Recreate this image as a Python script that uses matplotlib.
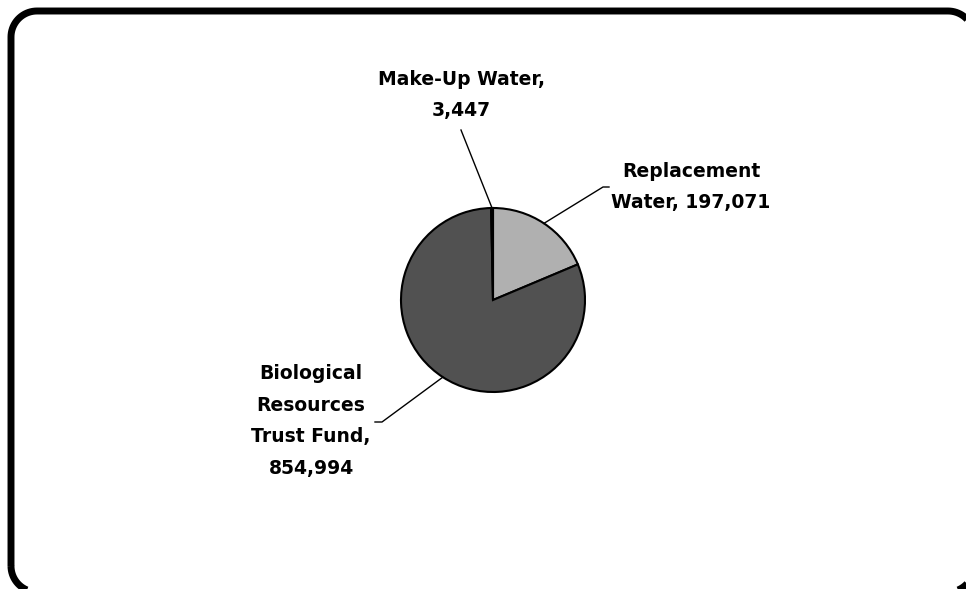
import numpy as np
import matplotlib
matplotlib.use('Agg')
from matplotlib import pyplot as plt
from matplotlib.path import Path
from matplotlib.patches import PathPatch

# slices, clockwise from 12 o'clock
labels = ["Replacement\nWater, 197,071",
          "Biological\nResources\nTrust Fund,\n854,994",
          "Make-Up Water,\n3,447"]
values = [197071, 854994, 3447]
colors = ['#b0b0b0', '#515151', '#2a2a2a']

W, H = 966, 589
fig = plt.figure(figsize=(W / 100, H / 100), dpi=100)
ax = fig.add_axes([0, 0, 1, 1])

cx, cy, r = 493, H - 300, 92
wedges, _ = ax.pie(values, colors=colors, startangle=90, counterclock=False,
                   center=(cx, cy), radius=r,
                   wedgeprops=dict(edgecolor='black', linewidth=1.5))

# label block centre, elbow point, end of leader (pixels from top-left)
label_pos = [
    ((691, 187), (603, 187), (609, 187)),
    ((311, 421), (382, 422), (375, 422)),
    ((461, 95), (461, 130), (461, 130)),
]
for w, text, (tp, elbow, end) in zip(wedges, labels, label_pos):
    ang = np.deg2rad((w.theta1 + w.theta2) / 2)
    px, py = cx + r * np.cos(ang), cy + r * np.sin(ang)
    ax.plot([px, elbow[0], end[0]], [py, H - elbow[1], H - end[1]],
            color='black', linewidth=1)
    ax.text(tp[0], H - tp[1], text, ha='center', va='center',
            fontsize=13.5, fontweight='bold', family='DejaVu Sans',
            linespacing=1.85)

# rounded frame; right and bottom edges run off the picture
x0, y0, x1, y1, rad = 11, 11, 974, 592, 26


def arc(xc, yc, a0, a1):
    t = np.deg2rad(np.linspace(a0, a1, 20))
    return list(zip(xc + rad * np.cos(t), H - (yc - rad * np.sin(t))))


pts = ([(x0, H - (y1 - rad))] + arc(x0 + rad, y1 - rad, 180, 270)
       + [(x1 - rad, H - y1)] + arc(x1 - rad, y1 - rad, 270, 360)
       + [(x1, H - (y0 + rad))] + arc(x1 - rad, y0 + rad, 0, 90)
       + [(x0 + rad, H - y0)] + arc(x0 + rad, y0 + rad, 90, 180))
pts.append(pts[0])
ax.add_patch(PathPatch(Path(pts, closed=True), fill=False,
                       edgecolor='black', linewidth=5))

ax.set_xlim(0, W)
ax.set_ylim(0, H)
ax.set_aspect('auto')
ax.axis('off')

fig.savefig('out.png', dpi=100)
